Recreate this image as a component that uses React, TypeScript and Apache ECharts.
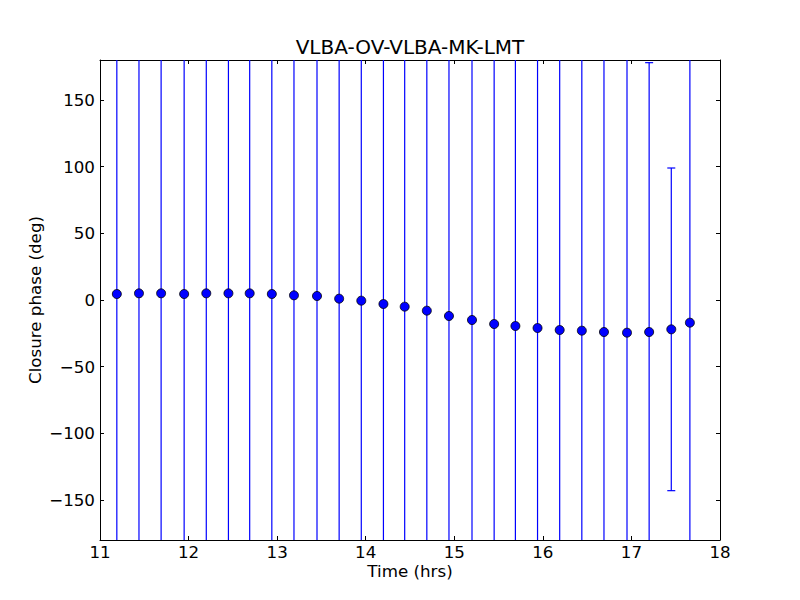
import React, { useEffect, useRef } from "react";
import * as echarts from "echarts";

const TITLE = "VLBA-OV-VLBA-MK-LMT";
const X_NAME = "Time (hrs)";
const Y_NAME = "Closure phase (deg)";

const times = [
  11.19, 11.44, 11.69, 11.95, 12.2, 12.45, 12.69, 12.94, 13.19, 13.45, 13.7,
  13.95, 14.2, 14.44, 14.69, 14.94, 15.2, 15.45, 15.69, 15.94, 16.19, 16.44,
  16.69, 16.95, 17.2, 17.45, 17.66,
];
const phases = [
  4.5, 5, 5, 4.5, 5, 5, 5, 4.5, 3.5, 3, 1, -0.5, -3, -5, -8, -12, -15, -18,
  -19.5, -21, -22.5, -23, -24, -24.5, -24, -22, -17,
];
const errors = [
  300, 300, 300, 300, 300, 300, 300, 300, 300, 300, 300, 300, 300, 300, 300,
  300, 300, 300, 300, 300, 300, 300, 300, 300, 202, 121, 300,
];

const X_MIN = 11;
const X_MAX = 18;
const Y_MIN = -180;
const Y_MAX = 180;
const yTicks = [-150, -100, -50, 0, 50, 100, 150];

const FONT = "DejaVu Sans";
const BLUE = "#0000ff";

export default function App() {
  const ref = useRef<HTMLDivElement>(null);
  useEffect(() => {
    if (!ref.current) return;
    const chart = echarts.init(ref.current, undefined, { renderer: "svg" });
    const errData = times.map((t, i) => [t, phases[i], errors[i]]);
    const ptData = times.map((t, i) => [t, phases[i]]);
    const fmtNum = (v: number) => String(v).replace("-", "\u2212");
    const axisCommon = {
      axisLine: { show: true, onZero: false, lineStyle: { color: "#000", width: 1 } },
      splitLine: { show: false },
    };
    const txt = { fontFamily: FONT, fill: "#000", textAlign: "center", textVerticalAlign: "middle" };
    chart.setOption({
      animation: false,
      backgroundColor: "#fff",
      color: [BLUE],
      textStyle: { fontFamily: FONT },
      grid: { left: 100, right: 80, top: 60, bottom: 60, containLabel: false },
      graphic: [
        { type: "text", x: 410, y: 47, style: { ...txt, text: TITLE, fontSize: 20 } },
        { type: "text", x: 410, y: 571, style: { ...txt, text: X_NAME, fontSize: 16.7 } },
        {
          type: "text",
          x: 35,
          y: 300,
          rotation: Math.PI / 2,
          style: { ...txt, text: Y_NAME, fontSize: 16.7 },
        },
      ],
      xAxis: [
        {
          type: "value",
          min: X_MIN,
          max: X_MAX,
          interval: 1,
          position: "bottom",
          ...axisCommon,
          axisTick: { show: true, inside: true, length: 4, lineStyle: { color: "#000" } },
          axisLabel: {
            show: true,
            margin: 3,
            color: "#000",
            fontFamily: FONT,
            fontSize: 16.7,
            formatter: (v: number) => fmtNum(v),
          },
        },
        {
          type: "value",
          min: X_MIN,
          max: X_MAX,
          interval: 1,
          position: "top",
          ...axisCommon,
          axisTick: { show: true, inside: true, length: 4, lineStyle: { color: "#000" } },
          axisLabel: { show: false },
        },
      ],
      yAxis: [
        {
          type: "value",
          min: Y_MIN,
          max: Y_MAX,
          position: "left",
          ...axisCommon,
          axisTick: {
            show: true,
            inside: true,
            length: 4,
            customValues: yTicks,
            lineStyle: { color: "#000" },
          },
          axisLabel: {
            show: true,
            margin: 5,
            customValues: yTicks,
            color: "#000",
            fontFamily: FONT,
            fontSize: 16.7,
            formatter: (v: number) => fmtNum(v),
          },
        },
        {
          type: "value",
          min: Y_MIN,
          max: Y_MAX,
          position: "right",
          ...axisCommon,
          axisTick: {
            show: true,
            inside: true,
            length: 4,
            customValues: yTicks,
            lineStyle: { color: "#000" },
          },
          axisLabel: { show: false },
        },
      ],
      series: [
        {
          type: "custom",
          xAxisIndex: 0,
          yAxisIndex: 0,
          data: errData,
          z: 2,
          itemStyle: { color: BLUE },
          renderItem: (_params: any, api: any) => {
            const x = api.value(0);
            const y = api.value(1);
            const e = api.value(2);
            const hi = y + e;
            const lo = y - e;
            const top = api.coord([x, Math.min(hi, Y_MAX)]);
            const bot = api.coord([x, Math.max(lo, Y_MIN)]);
            const px = top[0];
            const stroke = { stroke: BLUE, fill: "none", lineWidth: 1.2, opacity: 1 };
            const children: any[] = [
              { type: "line", shape: { x1: px, y1: top[1], x2: px, y2: bot[1] }, style: stroke },
            ];
            if (hi <= Y_MAX) {
              children.push({
                type: "line",
                shape: { x1: px - 4, y1: top[1], x2: px + 4, y2: top[1] },
                style: stroke,
              });
            }
            if (lo >= Y_MIN) {
              children.push({
                type: "line",
                shape: { x1: px - 4, y1: bot[1], x2: px + 4, y2: bot[1] },
                style: stroke,
              });
            }
            return { type: "group", children };
          },
        },
        {
          type: "scatter",
          xAxisIndex: 0,
          yAxisIndex: 0,
          data: ptData,
          symbol: "circle",
          symbolSize: 9,
          z: 3,
          itemStyle: { color: BLUE, borderColor: "#000", borderWidth: 0.8, opacity: 1 },
        },
      ],
    });
    return () => chart.dispose();
  }, []);
  return (
    <div
      ref={ref}
      style={{ position: "absolute", left: 0, top: 0, width: 800, height: 600 }}
    />
  );
}
